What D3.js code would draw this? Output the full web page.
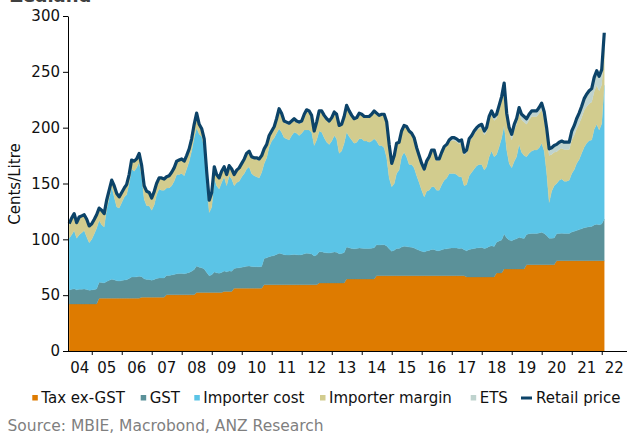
<!DOCTYPE html>
<html><head><meta charset="utf-8">
<script src="https://cdn.jsdelivr.net/npm/d3@7"></script>
<style>
html,body{margin:0;padding:0;background:#fff;}
svg{display:block;font-family:"DejaVu Sans",Verdana,sans-serif;}
</style></head><body>
<svg id="chart" width="627" height="434"></svg>
<script>
// Monthly observations, April 2004 to February 2022 (cents per litre)
const retailPrice = [
  114,119,123,115,120,121,122,118,112,
  114,118,122,128,126,123,135,144,153,148,141,138,
  142,146,149,158,171,170,172,177,166,148,143,142,
  137,143,150,155,155,154,156,157,160,164,170,171,
  172,170,175,181,190,203,213,203,199,190,160,135,
  142,165,158,155,161,165,158,166,163,158,162,164,
  168,172,177,179,174,173,173,172,175,181,185,193,
  197,201,208,217,213,206,205,204,206,208,206,205,
  206,212,216,215,211,197,205,215,215,211,208,206,
  209,214,212,202,203,210,220,215,211,208,209,213,
  212,210,210,210,212,215,213,211,212,212,205,185,
  168,175,186,187,197,202,201,197,195,191,182,175,
  168,163,170,174,180,180,172,172,178,183,185,189,
  191,191,190,188,189,178,180,190,193,197,200,202,
  203,197,200,210,215,210,212,220,228,240,213,200,
  194,203,208,218,212,210,208,212,215,215,215,218,
  222,214,200,181,182,184,185,187,188,187,187,187,
  197,202,208,213,219,226,230,233,235,245,251,246,
  252,285
];
const taxExGst = [
  42,42,42,42,42,42,42,42,42,
  42,42,42,47.3,47.3,47.3,47.3,47.3,47.3,47.3,47.3,47.3,
  47.3,47.3,47.3,47.3,47.3,47.3,47.3,47.3,48.2,48.2,48.2,48.2,
  48.2,48.2,48.2,48.2,48.2,48.2,50.3,50.3,50.3,50.3,50.3,50.3,
  50.3,50.3,50.3,50.3,50.3,50.3,52.4,52.4,52.4,52.4,52.4,52.4,
  52.4,52.4,52.4,52.4,52.4,53.3,53.3,53.3,53.3,56.3,56.3,56.3,
  56.3,56.3,56.3,56.3,56.3,56.3,56.3,56.3,56.3,59.3,59.3,59.3,
  59.3,59.3,59.3,59.3,59.3,59.3,59.3,59.3,59.3,59.3,59.3,59.3,
  59.3,59.3,59.3,59.3,59.3,59.3,59.3,60.8,60.8,60.8,60.8,60.8,
  60.8,60.8,60.8,60.8,60.8,60.8,64.4,64.4,64.4,64.4,64.4,64.4,
  64.4,64.4,64.4,64.4,64.4,64.4,67.4,67.4,67.4,67.4,67.4,67.4,
  67.4,67.4,67.4,67.4,67.4,67.4,67.4,67.4,67.4,67.4,67.4,67.4,
  67.4,67.4,67.4,67.4,67.4,67.4,67.4,67.4,67.4,67.4,67.4,67.4,
  67.4,67.4,67.4,67.4,67.4,67.4,66.2,66.2,66.2,66.2,66.2,66.2,
  66.2,66.2,66.2,66.2,66.2,66.2,69.8,69.8,69.8,73.4,73.4,73.4,
  73.4,73.4,73.4,73.4,73.4,73.4,77.3,77.3,77.3,77.3,77.3,77.3,
  77.3,77.3,77.3,77.3,77.3,77.3,80.9,80.9,80.9,80.9,80.9,80.9,
  80.9,80.9,80.9,80.9,80.9,80.9,80.9,80.9,80.9,80.9,80.9,80.9,
  80.9,80.9
];
const gst = [
  12.7,13.2,13.7,12.8,13.3,13.4,13.6,13.1,12.4,
  12.7,13.1,13.6,14.2,14.0,13.7,15.0,16.0,17.0,16.4,15.7,15.3,
  15.8,16.2,16.6,17.6,19.0,18.9,19.1,19.7,18.4,16.4,15.9,15.8,
  15.2,15.9,16.7,17.2,17.2,17.1,17.3,17.4,17.8,18.2,18.9,19.0,
  19.1,18.9,19.4,20.1,21.1,22.6,23.7,22.6,22.1,21.1,17.8,15.0,
  15.8,18.3,17.6,17.2,17.9,18.3,17.6,18.4,18.1,17.6,18.0,18.2,
  18.7,19.1,19.7,19.9,19.3,19.2,19.2,19.1,19.4,23.6,24.1,25.2,
  25.7,26.2,27.1,28.3,27.8,26.9,26.7,26.6,26.9,27.1,26.9,26.7,
  26.9,27.7,28.2,28.0,27.5,25.7,26.7,28.0,28.0,27.5,27.1,26.9,
  27.3,27.9,27.7,26.3,26.5,27.4,28.7,28.0,27.5,27.1,27.3,27.8,
  27.7,27.4,27.4,27.4,27.7,28.0,27.8,27.5,27.7,27.7,26.7,24.1,
  21.9,22.8,24.3,24.4,25.7,26.3,26.2,25.7,25.4,24.9,23.7,22.8,
  21.9,21.3,22.2,22.7,23.5,23.5,22.4,22.4,23.2,23.9,24.1,24.7,
  24.9,24.9,24.8,24.5,24.7,23.2,23.5,24.8,25.2,25.7,26.1,26.3,
  26.5,25.7,26.1,27.4,28.0,27.4,27.7,28.7,29.7,31.3,27.8,26.1,
  25.3,26.5,27.1,28.4,27.7,27.4,27.1,27.7,28.0,28.0,28.0,28.4,
  29.0,27.9,26.1,23.6,23.7,24.0,24.1,24.4,24.5,24.4,24.4,24.4,
  25.7,26.3,27.1,27.8,28.6,29.5,30.0,30.4,30.7,32.0,32.7,32.1,
  32.9,37.2
];
const importerCost = [
  46.3,48.8,52.3,46.2,48.7,50.6,52.4,46.9,42.6,
  45.3,49.9,54.4,55.5,51.7,50.0,64.7,73.7,82.7,74.3,66.0,65.4,
  69.9,74.5,76.1,85.1,96.7,94.8,97.6,102.0,89.4,71.4,65.9,66.0,
  62.6,66.9,75.1,79.6,78.6,78.7,78.4,78.3,79.9,83.5,88.8,88.7,
  89.6,87.8,93.3,99.6,107.6,118.1,123.9,119.0,117.5,108.5,79.8,56.6,
  60.8,84.3,78.0,75.4,80.7,84.4,77.1,85.3,82.6,74.1,76.7,77.5,
  81.0,83.6,87.0,88.8,83.4,81.5,80.5,79.6,84.3,85.1,89.6,98.5,
  103.0,105.5,108.6,111.4,108.9,104.8,104.0,103.1,106.8,109.6,108.8,107.0,
  108.8,111.0,110.5,110.7,109.2,99.0,103.0,108.2,107.2,102.7,99.1,97.3,
  99.9,104.3,101.5,89.9,91.7,97.8,102.9,99.6,97.1,94.5,95.3,97.8,
  97.9,96.2,96.2,95.2,95.9,97.6,92.8,89.1,88.9,86.9,78.9,63.5,
  57.7,59.8,67.3,70.2,80.9,84.3,80.4,73.9,74.2,71.7,65.9,60.8,
  54.7,49.3,53.4,53.9,56.1,56.1,54.2,54.2,58.4,61.7,63.5,66.9,
  66.7,66.7,65.8,64.1,63.9,57.4,59.3,66.0,68.6,71.1,73.7,74.5,
  74.3,70.1,72.7,80.4,84.8,80.4,78.5,84.5,91.5,97.3,78.8,68.5,
  65.3,70.1,73.5,83.2,76.9,74.2,69.6,72.0,73.7,74.7,74.7,76.3,
  79.7,73.8,56.6,32.1,42.0,46.7,45.0,47.7,48.6,46.7,46.7,47.7,
  52.4,55.3,60.0,62.8,67.5,72.1,75.1,77.2,77.4,85.6,89.4,85.0,
  89.7,119.9
];
const importerMargin = [
  13,15,15,14,16,15,14,16,15,
  14,13,12,11,13,12,8,7,6,10,12,10,
  9,8,9,8,8,9,8,8,10,12,13,12,
  11,12,10,10,11,10,10,11,12,12,12,13,
  13,13,12,11,11,12,13,9,7,8,10,11,
  13,10,10,10,10,9,10,9,9,10,11,12,
  12,13,14,14,15,16,15.5,15.5,13.5,11.5,10.5,8.5,
  7.5,8.5,11.5,16.5,15.5,13.5,13.5,13.5,11.5,10.5,9.5,10.5,
  9.5,12.5,16.5,15.5,13.5,11.5,14.5,16.5,17.5,18.5,19.5,19.5,
  20,20,21,24,23,23,23,22,21,21,21,22,
  21,21,21,22,23,24,24,26,27,29,31,29,
  20,24,26,24,22,23,26,29,27,26,24,23,
  22.5,23.5,25.5,28.5,31.5,31.5,26.5,26.5,27.5,28.5,28.5,28.5,
  29.5,29.5,29.5,29.5,30.5,27.5,28.5,30.5,30.5,31.5,31.5,32.5,
  32.5,31.5,31.5,32.5,32.5,32.5,32.5,33.5,33.5,34.5,29.5,28.5,
  25,28,29,28,29,30,29,30,31,30,30,31,
  30,29,34,42,33,30,28.5,27.5,27.5,28.5,28.5,27.5,
  30,31,31,32,32,33,33,33,34,34,35,35,
  35,33
];
const ets = [
  0,0,0,0,0,0,0,0,0,
  0,0,0,0,0,0,0,0,0,0,0,0,
  0,0,0,0,0,0,0,0,0,0,0,0,
  0,0,0,0,0,0,0,0,0,0,0,0,
  0,0,0,0,0,0,0,0,0,0,0,0,
  0,0,0,0,0,0,0,0,0,0,0,0,
  0,0,0,0,0,0,1.5,1.5,1.5,1.5,1.5,1.5,
  1.5,1.5,1.5,1.5,1.5,1.5,1.5,1.5,1.5,1.5,1.5,1.5,
  1.5,1.5,1.5,1.5,1.5,1.5,1.5,1.5,1.5,1.5,1.5,1.5,
  1,1,1,1,1,1,1,1,1,1,1,1,
  1,1,1,1,1,1,1,1,1,1,1,1,
  1,1,1,1,1,1,1,1,1,1,1,1,
  1.5,1.5,1.5,1.5,1.5,1.5,1.5,1.5,1.5,1.5,1.5,1.5,
  2.5,2.5,2.5,2.5,2.5,2.5,2.5,2.5,2.5,2.5,2.5,2.5,
  3.5,3.5,3.5,3.5,3.5,3.5,3.5,3.5,3.5,3.5,3.5,3.5,
  5,5,5,5,5,5,5,5,5,5,5,5,
  6,6,6,6,6,6,6.5,6.5,6.5,6.5,6.5,6.5,
  8,8.5,9,9.5,10,10.5,11,11.5,12,12.5,13,13,
  13.5,14
];
const yTicks = [0, 50, 100, 150, 200, 250, 300];
const yearLabels = ["04","05","06","07","08","09","10","11","12","13","14","15","16","17","18","19","20","21","22"];
const seriesNames = ["Tax ex-GST","GST","Importer cost","Importer margin","ETS"];
const lineName = "Retail price";

// ---------- drawing ----------
const colors = {
  "Tax ex-GST": "#DE7B00",
  "GST": "#5B9199",
  "Importer cost": "#5BC4E6",
  "Importer margin": "#D2CC8E",
  "ETS": "#BFD3CE",
  "Retail price": "#0C4368"
};
const svg = d3.select("#chart");
const dates = d3.timeMonth.range(new Date(2004, 3, 1), new Date(2022, 2, 1));
const x = d3.scaleTime().domain([new Date(2004,0,1), new Date(2023,0,1)]).range([61.7, 631.7]);
const y = d3.scaleLinear().domain([0, 300]).range([351, 16]);
const axisLeftX = 68, axisRightX = 627;

const seriesArrays = [taxExGst, gst, importerCost, importerMargin, ets];
const rows = dates.map((d, i) => {
  const r = {date: d};
  seriesNames.forEach((k, j) => r[k] = seriesArrays[j][i]);
  return r;
});
const stacked = d3.stack().keys(seriesNames)(rows);
const area = d3.area()
  .x(d => x(d.data.date))
  .y0(d => y(d[0]))
  .y1(d => y(d[1]));

svg.append("g").selectAll("path").data(stacked).join("path")
  .attr("d", area)
  .attr("fill", s => colors[s.key])
  .attr("stroke", s => colors[s.key])
  .attr("stroke-width", 0.3);

const line = d3.line().x((d, i) => x(dates[i])).y(d => y(d));
svg.append("path").datum(retailPrice)
  .attr("d", line)
  .attr("fill", "none")
  .attr("stroke", colors["Retail price"])
  .attr("stroke-width", 3.2)
  .attr("stroke-linejoin", "round");

// Y axis
const yAxis = svg.append("g").attr("transform", `translate(${axisLeftX},0)`)
  .call(d3.axisLeft(y).tickValues(yTicks).tickSize(5).tickSizeOuter(0).tickPadding(3));
yAxis.selectAll("text").attr("font-size", 15).attr("font-family", "DejaVu Sans").attr("fill", "#111");
yAxis.selectAll("line,path").attr("stroke", "#000");

// X axis
const yearStarts = d3.range(2005, 2023).map(yr => new Date(yr, 0, 1));
const xAxis = svg.append("g").attr("transform", `translate(0,${y(0)})`)
  .call(d3.axisBottom(x).tickValues(yearStarts).tickSize(4).tickFormat(""));
xAxis.select(".domain").remove();
xAxis.selectAll("line").attr("stroke", "#000");
svg.append("line")
  .attr("x1", axisLeftX).attr("x2", axisRightX)
  .attr("y1", y(0) + 0.5).attr("y2", y(0) + 0.5)
  .attr("stroke", "#000");
svg.append("g").selectAll("text").data(yearLabels).join("text")
  .attr("x", (d, i) => {
    const a = Math.max(axisLeftX, x(new Date(2004 + i, 0, 1)));
    const b = Math.min(axisRightX, x(new Date(2005 + i, 0, 1)));
    return (a + b) / 2;
  })
  .attr("y", 373)
  .attr("text-anchor", "middle")
  .attr("font-size", 15)
  .attr("fill", "#111")
  .text(d => d);

// Y axis title
svg.append("text")
  .attr("transform", "translate(19.5,184) rotate(-90)")
  .attr("text-anchor", "middle")
  .attr("font-size", 15)
  .attr("fill", "#111")
  .text("Cents/Litre");

// Title fragment (cut off at the top edge, as in the reference)
svg.append("text")
  .attr("x", 10).attr("y", 1.8)
  .attr("font-size", 18).attr("font-weight", "bold")
  .attr("fill", "#404040")
  .text("Zealand");

// Legend
const legendItems = seriesNames.concat([lineName]);
const legendX = [32.3, 140.7, 194.3, 320, 470.7, 521];
const lg = svg.append("g");
legendItems.forEach((name, i) => {
  const lx = legendX[i];
  if (name === lineName) {
    lg.append("line").attr("x1", lx).attr("x2", lx + 11)
      .attr("y1", 398).attr("y2", 398)
      .attr("stroke", colors[name]).attr("stroke-width", 3);
    lg.append("text").attr("x", lx + 15).attr("y", 403.3)
      .attr("font-size", 15).attr("fill", "#111").text(name);
  } else {
    lg.append("rect").attr("x", lx).attr("y", 395).attr("width", 5.5).attr("height", 5.5)
      .attr("fill", colors[name]);
    lg.append("text").attr("x", lx + 9).attr("y", 403.3)
      .attr("font-size", 15).attr("fill", "#111").text(name);
  }
});

// Source
svg.append("text")
  .attr("x", 7.5).attr("y", 430.5)
  .attr("font-size", 15.5).attr("fill", "#7f7f7f")
  .text("Source: MBIE, Macrobond, ANZ Research");
</script>
</body></html>
